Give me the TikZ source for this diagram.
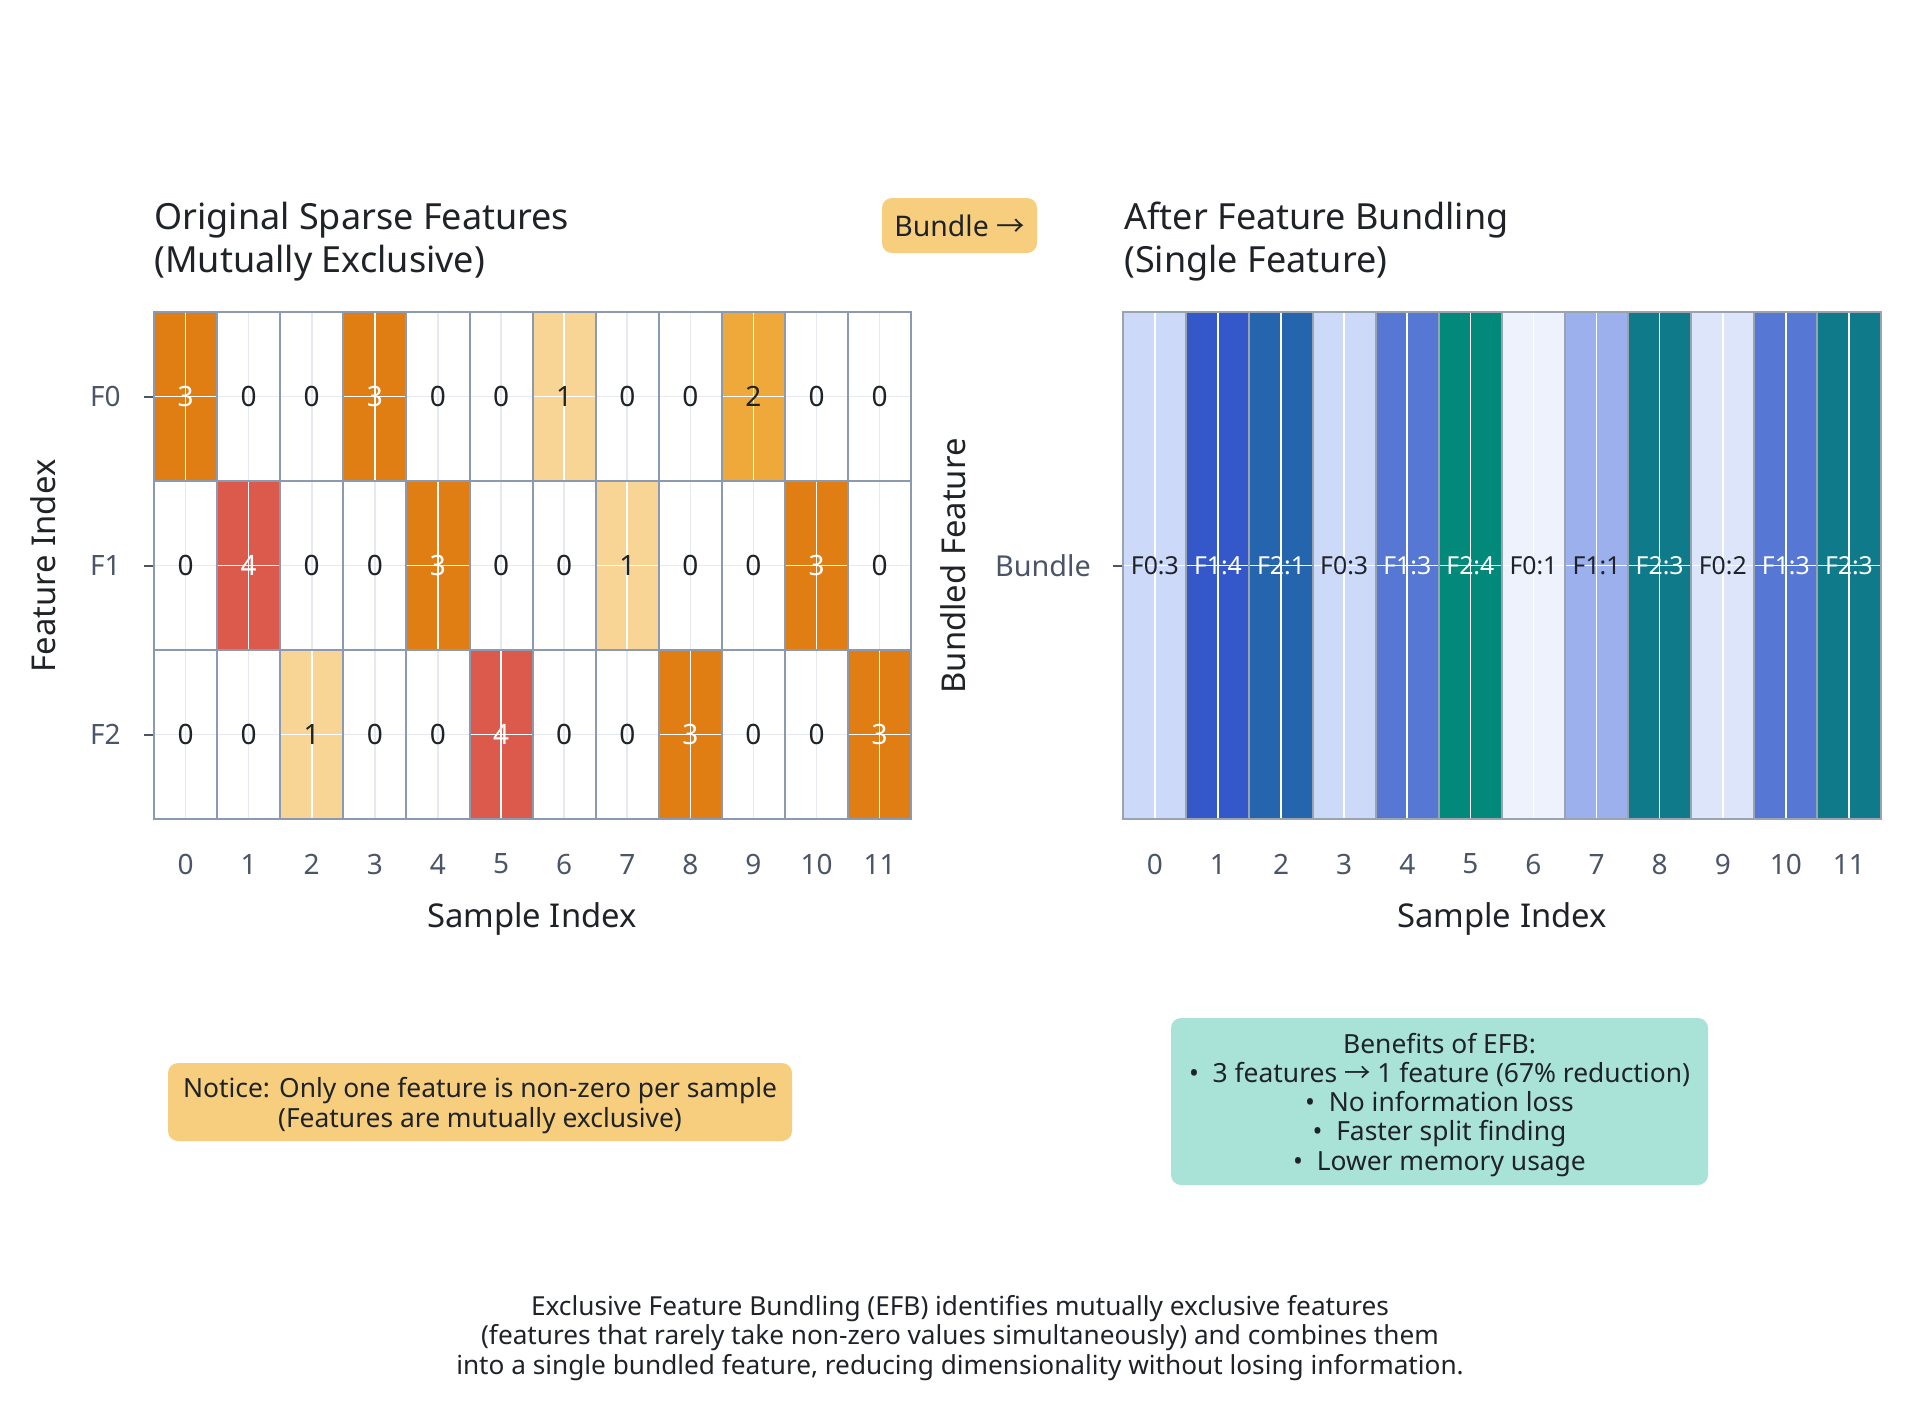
\documentclass[tikz,border=0pt]{standalone}
\usepackage{fontspec}
\setmainfont{Noto Sans}
\newfontfamily\arrowfont{Noto Sans CJK KR}
\newcommand{\rarr}{{\arrowfont →}}
\usetikzlibrary{positioning}

% heatmap colours
\definecolor{cellborder}{HTML}{8B9AB0}
\definecolor{bcellborder}{HTML}{9AA3B0}
\definecolor{tickgray}{HTML}{4B5567}
\definecolor{labblack}{HTML}{1F2328}
\definecolor{v0}{HTML}{FFFFFF}
\definecolor{v1}{HTML}{F8D594}
\definecolor{v2}{HTML}{EEA93A}
\definecolor{v3}{HTML}{E07E14}
\definecolor{v4}{HTML}{DC5A4C}
\colorlet{t0}{labblack}\colorlet{t1}{labblack}\colorlet{t2}{labblack}
\colorlet{t3}{white}\colorlet{t4}{white}
\definecolor{g0}{HTML}{E6E9EF}
\colorlet{g1}{white}\colorlet{g2}{white}\colorlet{g3}{white}\colorlet{g4}{white}
\definecolor{b01}{HTML}{EEF2FD}
\definecolor{b02}{HTML}{DDE5FA}
\definecolor{b03}{HTML}{CCD9F9}
\definecolor{b11}{HTML}{9BB0EC}
\definecolor{b13}{HTML}{5677D4}
\definecolor{b14}{HTML}{3457C9}
\definecolor{b21}{HTML}{2565AE}
\definecolor{b23}{HTML}{0F7B8A}
\definecolor{b24}{HTML}{02897A}
% boxes
\definecolor{notefill}{HTML}{F6CE7E}
\definecolor{benefill}{HTML}{A9E3D8}

\begin{document}
\begin{tikzpicture}[x=0.5pt, y=-0.5pt,
    cell/.style={draw=cellborder, line width=1pt, minimum width=31.55pt, minimum height=84.5pt,
      inner sep=0pt, font=\fontsize{14}{16}\selectfont},
    bcell/.style={draw=bcellborder, line width=1pt, minimum width=31.6pt, minimum height=253.5pt,
      inner sep=0pt, font=\fontsize{12.4}{14}\selectfont},
    cross/.style={path picture={\draw[#1, line width=0.8pt]
      (path picture bounding box.north) -- (path picture bounding box.south)
      (path picture bounding box.west) -- (path picture bounding box.east);}},
    ticklab/.style={text=tickgray, inner sep=0pt, font=\fontsize{14}{16}\selectfont},
    tickmark/.style={draw=tickgray, line width=1pt},
    axlab/.style={text=labblack, font=\fontsize{16.4}{19}\selectfont},
    paneltitle/.style={anchor=north west, align=left, inner sep=0pt, text=labblack,
      font=\fontsize{18}{21.4}\selectfont},
    notebox/.style={rounded corners=5pt},
    notetext/.style={align=center, text=labblack, font=\fontsize{13.2}{14.6}\selectfont}]

    \useasboundingbox (0,0) rectangle (1920,1413);

    % Left heatmap: original sparse features
    \foreach \r/\vals in {0/{3,0,0,3,0,0,1,0,0,2,0,0},
                          1/{0,4,0,0,3,0,0,1,0,0,3,0},
                          2/{0,0,1,0,0,4,0,0,3,0,0,3}} {
      \foreach \v [count=\c from 0] in \vals {
        \node[cell, fill=v\v, text=t\v, cross=g\v] (f\r-\c)
          at ({154+63.1*(\c+0.5)}, {312+169*(\r+0.5)}) {\v};
      }
      \draw[tickmark] (f\r-0.west) -- ++(-9,0);
      \node[ticklab, anchor=east] (lf\r) at ([xshift=-16pt]f\r-0.west) {F\r};
    }
    \foreach \c in {0,...,11}
      \node[ticklab] (sx\c) at ({154+63.1*(\c+0.5)}, 864) {\c};

    % Right heatmap: bundled feature
    \foreach \lab/\fc/\tc [count=\c from 0] in {F0:3/b03/labblack, F1:4/b14/white, F2:1/b21/white,
        F0:3/b03/labblack, F1:3/b13/white, F2:4/b24/white, F0:1/b01/labblack, F1:1/b11/labblack,
        F2:3/b23/white, F0:2/b02/labblack, F1:3/b13/white, F2:3/b23/white} {
      \node[bcell, fill=\fc, text=\tc, cross=white] (b\c)
        at ({1123.3+63.1*(\c+0.5)}, 565.5) {\lab};
      \node[ticklab] (bx\c) at ({1123.3+63.1*(\c+0.5)}, 864) {\c};
    }
    \draw[tickmark] (b0.west) -- ++(-9,0);
    \node[ticklab, anchor=east, font=\fontsize{14.4}{17}\selectfont] (blab) at ([xshift=-15.5pt]b0.west) {Bundle};

    % Titles and axis labels
    \node[paneltitle] (ltitle) at (154,202) {Original Sparse Features\\(Mutually Exclusive)};
    \node[paneltitle] (rtitle) at (1124,202) {After Feature Bundling\\(Single Feature)};
    \node[axlab] (xlab1) at (532,919) {Sample Index};
    \node[axlab] (xlab2) at (1502,919) {Sample Index};
    \node[axlab, rotate=90] (ylab1) at (43,566) {Feature Index};
    \node[axlab, rotate=90] (ylab2) at (953,566) {Bundled Feature};

    % Boxes
    \node[notebox, fill=notefill, minimum width=77.5pt, minimum height=27.5pt, notetext,
      font=\fontsize{14.2}{16}\selectfont] (bundlebtn) at (959.5,225.5) {Bundle \rarr};
    \node[notebox, fill=notefill, minimum width=312pt, minimum height=39pt] (notice) at (480,1102) {};
    \node[notetext] (noticetext) at ([yshift=-1.8pt]notice.center)
      {Notice: Only one feature is non-zero per sample\\(Features are mutually exclusive)};
    \node[notebox, fill=benefill, minimum width=268.5pt, minimum height=83.5pt] (benefits) at (1439.5,1101.5) {};
    \node[notetext] (benefitstext) at ([yshift=-1.6pt]benefits.center)
      {Benefits of EFB:\\•\ \ 3 features \rarr\ 1 feature (67\% reduction)\\•\ \ No information loss\\
       •\ \ Faster split finding\\•\ \ Lower memory usage};

    % Caption
    \node[align=center, text=labblack, font=\fontsize{13.1}{14.8}\selectfont] (caption) at (960,1338)
      {Exclusive Feature Bundling (EFB) identifies mutually exclusive features\\
       (features that rarely take non-zero values simultaneously) and combines them\\
       into a single bundled feature, reducing dimensionality without losing information.};
\end{tikzpicture}
\end{document}
